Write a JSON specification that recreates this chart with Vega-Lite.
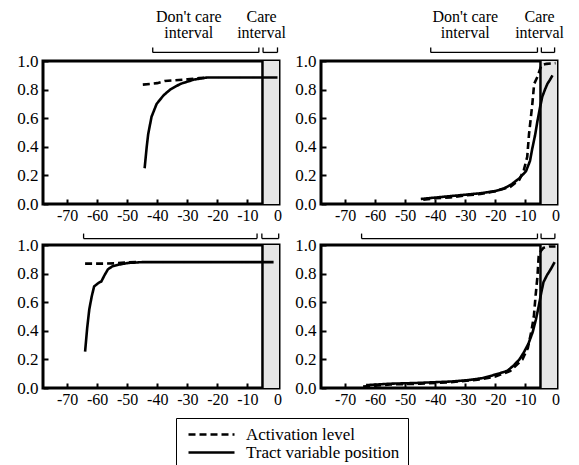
{
  "$schema": "https://vega.github.io/schema/vega-lite/v6.json",
  "padding": {"left": 15, "top": 7, "right": 5, "bottom": 0},
  "background": "white",
  "config": {
    "font": "Liberation Serif",
    "view": {"stroke": "black", "strokeWidth": 3},
    "axis": {"domain": false, "grid": false, "title": null, "labelColor": "black", "tickColor": "black", "labelFont": "Liberation Serif", "labelOverlap": false, "labelFlush": false, "labelBound": false, "zindex": 1, "ticks": true, "tickOpacity": 1, "labelOpacity": 1},
    "axisX": {"offset": -5, "tickSize": 5, "tickWidth": 2, "labelPadding": 3, "labelFontSize": 16, "labelOverlap": false, "values": [-70, -60, -50, -40, -30, -20, -10, 0], "labelExpr": "'' + datum.value"},
    "axisY": {"offset": -5, "tickSize": 5, "tickWidth": 2, "labelPadding": 5, "labelFontSize": 17, "labelOverlap": false, "values": [0, 0.2, 0.4, 0.6, 0.8, 1.0], "labelExpr": "format(datum.value, '.1f')"}
  },
  "datasets": {
    "panels": [
      {"kind": "curve", "panel": "A", "series": "Tract variable position", "x": -44.2, "y": 0.25},
      {"kind": "curve", "panel": "A", "series": "Tract variable position", "x": -43.5, "y": 0.4},
      {"kind": "curve", "panel": "A", "series": "Tract variable position", "x": -43, "y": 0.49},
      {"kind": "curve", "panel": "A", "series": "Tract variable position", "x": -41.9, "y": 0.61},
      {"kind": "curve", "panel": "A", "series": "Tract variable position", "x": -40.2, "y": 0.7},
      {"kind": "curve", "panel": "A", "series": "Tract variable position", "x": -37.9, "y": 0.76},
      {"kind": "curve", "panel": "A", "series": "Tract variable position", "x": -35.7, "y": 0.8},
      {"kind": "curve", "panel": "A", "series": "Tract variable position", "x": -32.3, "y": 0.84},
      {"kind": "curve", "panel": "A", "series": "Tract variable position", "x": -27.8, "y": 0.87},
      {"kind": "curve", "panel": "A", "series": "Tract variable position", "x": -23.3, "y": 0.885},
      {"kind": "curve", "panel": "A", "series": "Tract variable position", "x": -15, "y": 0.885},
      {"kind": "curve", "panel": "A", "series": "Tract variable position", "x": -5, "y": 0.885},
      {"kind": "curve", "panel": "A", "series": "Tract variable position", "x": 0, "y": 0.885},
      {"kind": "curve", "panel": "A", "series": "Activation level", "x": -44.8, "y": 0.835},
      {"kind": "curve", "panel": "A", "series": "Activation level", "x": -42, "y": 0.84},
      {"kind": "curve", "panel": "A", "series": "Activation level", "x": -40, "y": 0.845},
      {"kind": "curve", "panel": "A", "series": "Activation level", "x": -37.5, "y": 0.86},
      {"kind": "curve", "panel": "A", "series": "Activation level", "x": -34, "y": 0.865},
      {"kind": "curve", "panel": "A", "series": "Activation level", "x": -30, "y": 0.872},
      {"kind": "curve", "panel": "A", "series": "Activation level", "x": -26, "y": 0.88},
      {"kind": "curve", "panel": "A", "series": "Activation level", "x": -23, "y": 0.885},

      {"kind": "curve", "panel": "B", "series": "Tract variable position", "x": -44.8, "y": 0.035},
      {"kind": "curve", "panel": "B", "series": "Tract variable position", "x": -40, "y": 0.045},
      {"kind": "curve", "panel": "B", "series": "Tract variable position", "x": -35, "y": 0.055},
      {"kind": "curve", "panel": "B", "series": "Tract variable position", "x": -30, "y": 0.065},
      {"kind": "curve", "panel": "B", "series": "Tract variable position", "x": -25, "y": 0.075},
      {"kind": "curve", "panel": "B", "series": "Tract variable position", "x": -20, "y": 0.09},
      {"kind": "curve", "panel": "B", "series": "Tract variable position", "x": -17, "y": 0.11},
      {"kind": "curve", "panel": "B", "series": "Tract variable position", "x": -14.5, "y": 0.14},
      {"kind": "curve", "panel": "B", "series": "Tract variable position", "x": -12, "y": 0.18},
      {"kind": "curve", "panel": "B", "series": "Tract variable position", "x": -9.8, "y": 0.23},
      {"kind": "curve", "panel": "B", "series": "Tract variable position", "x": -8.5, "y": 0.3},
      {"kind": "curve", "panel": "B", "series": "Tract variable position", "x": -7.7, "y": 0.39},
      {"kind": "curve", "panel": "B", "series": "Tract variable position", "x": -6.8, "y": 0.48},
      {"kind": "curve", "panel": "B", "series": "Tract variable position", "x": -6, "y": 0.58},
      {"kind": "curve", "panel": "B", "series": "Tract variable position", "x": -5.2, "y": 0.67},
      {"kind": "curve", "panel": "B", "series": "Tract variable position", "x": -4.4, "y": 0.75},
      {"kind": "curve", "panel": "B", "series": "Tract variable position", "x": -3.5, "y": 0.8},
      {"kind": "curve", "panel": "B", "series": "Tract variable position", "x": -2.7, "y": 0.84},
      {"kind": "curve", "panel": "B", "series": "Tract variable position", "x": -1.8, "y": 0.87},
      {"kind": "curve", "panel": "B", "series": "Tract variable position", "x": -1, "y": 0.9},
      {"kind": "curve", "panel": "B", "series": "Activation level", "x": -44, "y": 0.03},
      {"kind": "curve", "panel": "B", "series": "Activation level", "x": -40, "y": 0.04},
      {"kind": "curve", "panel": "B", "series": "Activation level", "x": -35, "y": 0.045},
      {"kind": "curve", "panel": "B", "series": "Activation level", "x": -30, "y": 0.06},
      {"kind": "curve", "panel": "B", "series": "Activation level", "x": -25, "y": 0.07},
      {"kind": "curve", "panel": "B", "series": "Activation level", "x": -20, "y": 0.09},
      {"kind": "curve", "panel": "B", "series": "Activation level", "x": -15, "y": 0.12},
      {"kind": "curve", "panel": "B", "series": "Activation level", "x": -12, "y": 0.17},
      {"kind": "curve", "panel": "B", "series": "Activation level", "x": -10.5, "y": 0.24},
      {"kind": "curve", "panel": "B", "series": "Activation level", "x": -9.4, "y": 0.33},
      {"kind": "curve", "panel": "B", "series": "Activation level", "x": -8.8, "y": 0.49},
      {"kind": "curve", "panel": "B", "series": "Activation level", "x": -7.7, "y": 0.7},
      {"kind": "curve", "panel": "B", "series": "Activation level", "x": -7.1, "y": 0.84},
      {"kind": "curve", "panel": "B", "series": "Activation level", "x": -6, "y": 0.89},
      {"kind": "curve", "panel": "B", "series": "Activation level", "x": -4.7, "y": 0.97},
      {"kind": "curve", "panel": "B", "series": "Activation level", "x": -3, "y": 0.98},
      {"kind": "curve", "panel": "B", "series": "Activation level", "x": 0, "y": 0.985},

      {"kind": "curve", "panel": "C", "series": "Tract variable position", "x": -64, "y": 0.255},
      {"kind": "curve", "panel": "C", "series": "Tract variable position", "x": -63.3, "y": 0.42},
      {"kind": "curve", "panel": "C", "series": "Tract variable position", "x": -62.6, "y": 0.55},
      {"kind": "curve", "panel": "C", "series": "Tract variable position", "x": -61.8, "y": 0.64},
      {"kind": "curve", "panel": "C", "series": "Tract variable position", "x": -61, "y": 0.71},
      {"kind": "curve", "panel": "C", "series": "Tract variable position", "x": -59.5, "y": 0.735},
      {"kind": "curve", "panel": "C", "series": "Tract variable position", "x": -58.6, "y": 0.745},
      {"kind": "curve", "panel": "C", "series": "Tract variable position", "x": -57.5, "y": 0.79},
      {"kind": "curve", "panel": "C", "series": "Tract variable position", "x": -56.4, "y": 0.83},
      {"kind": "curve", "panel": "C", "series": "Tract variable position", "x": -55, "y": 0.85},
      {"kind": "curve", "panel": "C", "series": "Tract variable position", "x": -53, "y": 0.862},
      {"kind": "curve", "panel": "C", "series": "Tract variable position", "x": -49.5, "y": 0.875},
      {"kind": "curve", "panel": "C", "series": "Tract variable position", "x": -45, "y": 0.88},
      {"kind": "curve", "panel": "C", "series": "Tract variable position", "x": -20, "y": 0.88},
      {"kind": "curve", "panel": "C", "series": "Tract variable position", "x": -1.3, "y": 0.88},
      {"kind": "curve", "panel": "C", "series": "Activation level", "x": -64, "y": 0.87},
      {"kind": "curve", "panel": "C", "series": "Activation level", "x": -58, "y": 0.87},
      {"kind": "curve", "panel": "C", "series": "Activation level", "x": -54, "y": 0.872},
      {"kind": "curve", "panel": "C", "series": "Activation level", "x": -50, "y": 0.878},
      {"kind": "curve", "panel": "C", "series": "Activation level", "x": -47, "y": 0.88},

      {"kind": "curve", "panel": "D", "series": "Tract variable position", "x": -63, "y": 0.02},
      {"kind": "curve", "panel": "D", "series": "Tract variable position", "x": -55, "y": 0.03},
      {"kind": "curve", "panel": "D", "series": "Tract variable position", "x": -46.6, "y": 0.035},
      {"kind": "curve", "panel": "D", "series": "Tract variable position", "x": -35, "y": 0.045},
      {"kind": "curve", "panel": "D", "series": "Tract variable position", "x": -29, "y": 0.055},
      {"kind": "curve", "panel": "D", "series": "Tract variable position", "x": -24, "y": 0.07},
      {"kind": "curve", "panel": "D", "series": "Tract variable position", "x": -19, "y": 0.1},
      {"kind": "curve", "panel": "D", "series": "Tract variable position", "x": -16, "y": 0.12},
      {"kind": "curve", "panel": "D", "series": "Tract variable position", "x": -13.8, "y": 0.16},
      {"kind": "curve", "panel": "D", "series": "Tract variable position", "x": -12, "y": 0.2},
      {"kind": "curve", "panel": "D", "series": "Tract variable position", "x": -10.5, "y": 0.25},
      {"kind": "curve", "panel": "D", "series": "Tract variable position", "x": -9, "y": 0.31},
      {"kind": "curve", "panel": "D", "series": "Tract variable position", "x": -7.6, "y": 0.39},
      {"kind": "curve", "panel": "D", "series": "Tract variable position", "x": -6.5, "y": 0.48},
      {"kind": "curve", "panel": "D", "series": "Tract variable position", "x": -5.6, "y": 0.57},
      {"kind": "curve", "panel": "D", "series": "Tract variable position", "x": -4.8, "y": 0.66},
      {"kind": "curve", "panel": "D", "series": "Tract variable position", "x": -4, "y": 0.74},
      {"kind": "curve", "panel": "D", "series": "Tract variable position", "x": -2.8, "y": 0.79},
      {"kind": "curve", "panel": "D", "series": "Tract variable position", "x": -1.6, "y": 0.83},
      {"kind": "curve", "panel": "D", "series": "Tract variable position", "x": -0.3, "y": 0.88},
      {"kind": "curve", "panel": "D", "series": "Activation level", "x": -64, "y": 0.01},
      {"kind": "curve", "panel": "D", "series": "Activation level", "x": -55, "y": 0.025},
      {"kind": "curve", "panel": "D", "series": "Activation level", "x": -45, "y": 0.03},
      {"kind": "curve", "panel": "D", "series": "Activation level", "x": -35, "y": 0.04},
      {"kind": "curve", "panel": "D", "series": "Activation level", "x": -25, "y": 0.06},
      {"kind": "curve", "panel": "D", "series": "Activation level", "x": -20, "y": 0.08},
      {"kind": "curve", "panel": "D", "series": "Activation level", "x": -15, "y": 0.12},
      {"kind": "curve", "panel": "D", "series": "Activation level", "x": -11, "y": 0.2},
      {"kind": "curve", "panel": "D", "series": "Activation level", "x": -9.2, "y": 0.28},
      {"kind": "curve", "panel": "D", "series": "Activation level", "x": -8, "y": 0.4},
      {"kind": "curve", "panel": "D", "series": "Activation level", "x": -7.2, "y": 0.5},
      {"kind": "curve", "panel": "D", "series": "Activation level", "x": -6.6, "y": 0.65},
      {"kind": "curve", "panel": "D", "series": "Activation level", "x": -6, "y": 0.78},
      {"kind": "curve", "panel": "D", "series": "Activation level", "x": -5.6, "y": 0.92},
      {"kind": "curve", "panel": "D", "series": "Activation level", "x": -4.8, "y": 0.96},
      {"kind": "curve", "panel": "D", "series": "Activation level", "x": -4, "y": 0.98},
      {"kind": "curve", "panel": "D", "series": "Activation level", "x": -2, "y": 0.99},
      {"kind": "curve", "panel": "D", "series": "Activation level", "x": 0, "y": 0.99},

      {"kind": "bracket", "panel": "A", "x": -41.5, "x2": -6.2},
      {"kind": "bracket", "panel": "A", "x": -4.8, "x2": 0},
      {"kind": "bracket", "panel": "B", "x": -41.5, "x2": -6},
      {"kind": "bracket", "panel": "B", "x": -4.7, "x2": -0.3},
      {"kind": "bracket", "panel": "C", "x": -64.5, "x2": -6.8},
      {"kind": "bracket", "panel": "C", "x": -5.2, "x2": 0.4},
      {"kind": "bracket", "panel": "D", "x": -64.5, "x2": -6},
      {"kind": "bracket", "panel": "D", "x": -4.8, "x2": -0.2},

      {"kind": "care", "panel": "A", "x": -5, "x2": 0.5},
      {"kind": "care", "panel": "B", "x": -5, "x2": 0.5},
      {"kind": "care", "panel": "C", "x": -5, "x2": 0.5},
      {"kind": "care", "panel": "D", "x": -5, "x2": 0.5},

      {"kind": "label", "panel": "A", "x": -29.5, "text": "Don't care\ninterval"},
      {"kind": "label", "panel": "A", "x": -5.3, "text": "Care\ninterval"},
      {"kind": "label", "panel": "B", "x": -30, "text": "Don't care\ninterval"},
      {"kind": "label", "panel": "B", "x": -5.3, "text": "Care\ninterval"}
    ]
  },
  "columns": 2,
  "spacing": {"row": 41, "column": 42},
  "bounds": "flush",
  "concat": [
    {
      "data": {"name": "panels"},
      "transform": [{"filter": "datum.panel === 'A'"}],
      "width": 236, "height": 143,
      "layer": [
        {"transform": [{"filter": "datum.kind === 'care'"}], "mark": {"type": "rect", "fill": "#e6e6e6"},
          "encoding": {
            "x": {"field": "x", "type": "quantitative", "scale": {"domain": [-78, 0.5], "nice": false, "zero": false}},
            "x2": {"field": "x2"},
            "y": {"datum": 0, "type": "quantitative", "scale": {"domain": [0, 1], "nice": false, "zero": false}},
            "y2": {"datum": 1}}},
        {"transform": [{"filter": "datum.kind === 'care'"}], "mark": {"type": "rule", "color": "black", "strokeWidth": 2.5},
          "encoding": {"x": {"field": "x", "type": "quantitative"}, "y": {"datum": 0, "type": "quantitative"}, "y2": {"datum": 1}}},
        {"transform": [{"filter": "datum.kind === 'curve'"}], "mark": {"type": "line", "color": "black", "strokeWidth": 2.6},
          "encoding": {"x": {"field": "x", "type": "quantitative"}, "y": {"field": "y", "type": "quantitative"},
            "strokeDash": {"field": "series", "type": "nominal", "scale": {"domain": ["Activation level", "Tract variable position"], "range": [[7, 4], [1, 0]]},
              "legend": {"orient": "none", "legendX": 133, "legendY": 357, "title": null, "strokeColor": "black", "padding": 8, "symbolType": "M-1,0H10.5", "symbolSize": 64, "symbolStrokeWidth": 2.6, "symbolStrokeColor": "black", "labelFontSize": 17, "labelFont": "Liberation Serif", "labelColor": "black", "labelOffset": 45, "rowPadding": 0, "labelLimit": 300}}}},
        {"transform": [{"filter": "datum.kind === 'bracket'"}], "mark": {"type": "rule", "color": "black", "strokeWidth": 1.3},
          "encoding": {"x": {"field": "x", "type": "quantitative"}, "x2": {"field": "x2"}, "y": {"datum": 1.06, "type": "quantitative"}}},
        {"transform": [{"filter": "datum.kind === 'bracket'"}], "mark": {"type": "rule", "color": "black", "strokeWidth": 1.3},
          "encoding": {"x": {"field": "x", "type": "quantitative"}, "y": {"datum": 1.06, "type": "quantitative"}, "y2": {"datum": 1.095}}},
        {"transform": [{"filter": "datum.kind === 'bracket'"}], "mark": {"type": "rule", "color": "black", "strokeWidth": 1.3},
          "encoding": {"x": {"field": "x2", "type": "quantitative"}, "y": {"datum": 1.06, "type": "quantitative"}, "y2": {"datum": 1.095}}},
        {"transform": [{"filter": "datum.kind === 'label'"}], "mark": {"type": "text", "color": "black", "fontSize": 16, "font": "Liberation Serif", "lineBreak": "\n", "lineHeight": 16, "baseline": "alphabetic", "align": "center"},
          "encoding": {"x": {"field": "x", "type": "quantitative"}, "y": {"datum": 1.27, "type": "quantitative"}, "text": {"field": "text"}}}
      ]
    },
    {
      "data": {"name": "panels"},
      "transform": [{"filter": "datum.panel === 'B'"}],
      "width": 236, "height": 143,
      "layer": [
        {"transform": [{"filter": "datum.kind === 'care'"}], "mark": {"type": "rect", "fill": "#e6e6e6"},
          "encoding": {
            "x": {"field": "x", "type": "quantitative", "scale": {"domain": [-78, 0.5], "nice": false, "zero": false}},
            "x2": {"field": "x2"},
            "y": {"datum": 0, "type": "quantitative", "scale": {"domain": [0, 1], "nice": false, "zero": false}},
            "y2": {"datum": 1}}},
        {"transform": [{"filter": "datum.kind === 'care'"}], "mark": {"type": "rule", "color": "black", "strokeWidth": 2.5},
          "encoding": {"x": {"field": "x", "type": "quantitative"}, "y": {"datum": 0, "type": "quantitative"}, "y2": {"datum": 1}}},
        {"transform": [{"filter": "datum.kind === 'curve'"}], "mark": {"type": "line", "color": "black", "strokeWidth": 2.6},
          "encoding": {"x": {"field": "x", "type": "quantitative"}, "y": {"field": "y", "type": "quantitative"},
            "strokeDash": {"field": "series", "type": "nominal"}}},
        {"transform": [{"filter": "datum.kind === 'bracket'"}], "mark": {"type": "rule", "color": "black", "strokeWidth": 1.3},
          "encoding": {"x": {"field": "x", "type": "quantitative"}, "x2": {"field": "x2"}, "y": {"datum": 1.06, "type": "quantitative"}}},
        {"transform": [{"filter": "datum.kind === 'bracket'"}], "mark": {"type": "rule", "color": "black", "strokeWidth": 1.3},
          "encoding": {"x": {"field": "x", "type": "quantitative"}, "y": {"datum": 1.06, "type": "quantitative"}, "y2": {"datum": 1.095}}},
        {"transform": [{"filter": "datum.kind === 'bracket'"}], "mark": {"type": "rule", "color": "black", "strokeWidth": 1.3},
          "encoding": {"x": {"field": "x2", "type": "quantitative"}, "y": {"datum": 1.06, "type": "quantitative"}, "y2": {"datum": 1.095}}},
        {"transform": [{"filter": "datum.kind === 'label'"}], "mark": {"type": "text", "color": "black", "fontSize": 16, "font": "Liberation Serif", "lineBreak": "\n", "lineHeight": 16, "baseline": "alphabetic", "align": "center"},
          "encoding": {"x": {"field": "x", "type": "quantitative"}, "y": {"datum": 1.27, "type": "quantitative"}, "text": {"field": "text"}}}
      ]
    },
    {
      "data": {"name": "panels"},
      "transform": [{"filter": "datum.panel === 'C'"}],
      "width": 236, "height": 143,
      "layer": [
        {"transform": [{"filter": "datum.kind === 'care'"}], "mark": {"type": "rect", "fill": "#e6e6e6"},
          "encoding": {
            "x": {"field": "x", "type": "quantitative", "scale": {"domain": [-78, 0.5], "nice": false, "zero": false}},
            "x2": {"field": "x2"},
            "y": {"datum": 0, "type": "quantitative", "scale": {"domain": [0, 1], "nice": false, "zero": false}},
            "y2": {"datum": 1}}},
        {"transform": [{"filter": "datum.kind === 'care'"}], "mark": {"type": "rule", "color": "black", "strokeWidth": 2.5},
          "encoding": {"x": {"field": "x", "type": "quantitative"}, "y": {"datum": 0, "type": "quantitative"}, "y2": {"datum": 1}}},
        {"transform": [{"filter": "datum.kind === 'curve'"}], "mark": {"type": "line", "color": "black", "strokeWidth": 2.6},
          "encoding": {"x": {"field": "x", "type": "quantitative"}, "y": {"field": "y", "type": "quantitative"},
            "strokeDash": {"field": "series", "type": "nominal"}}},
        {"transform": [{"filter": "datum.kind === 'bracket'"}], "mark": {"type": "rule", "color": "black", "strokeWidth": 1.3},
          "encoding": {"x": {"field": "x", "type": "quantitative"}, "x2": {"field": "x2"}, "y": {"datum": 1.045, "type": "quantitative"}}},
        {"transform": [{"filter": "datum.kind === 'bracket'"}], "mark": {"type": "rule", "color": "black", "strokeWidth": 1.3},
          "encoding": {"x": {"field": "x", "type": "quantitative"}, "y": {"datum": 1.045, "type": "quantitative"}, "y2": {"datum": 1.08}}},
        {"transform": [{"filter": "datum.kind === 'bracket'"}], "mark": {"type": "rule", "color": "black", "strokeWidth": 1.3},
          "encoding": {"x": {"field": "x2", "type": "quantitative"}, "y": {"datum": 1.045, "type": "quantitative"}, "y2": {"datum": 1.08}}}
      ]
    },
    {
      "data": {"name": "panels"},
      "transform": [{"filter": "datum.panel === 'D'"}],
      "width": 236, "height": 143,
      "layer": [
        {"transform": [{"filter": "datum.kind === 'care'"}], "mark": {"type": "rect", "fill": "#e6e6e6"},
          "encoding": {
            "x": {"field": "x", "type": "quantitative", "scale": {"domain": [-78, 0.5], "nice": false, "zero": false}},
            "x2": {"field": "x2"},
            "y": {"datum": 0, "type": "quantitative", "scale": {"domain": [0, 1], "nice": false, "zero": false}},
            "y2": {"datum": 1}}},
        {"transform": [{"filter": "datum.kind === 'care'"}], "mark": {"type": "rule", "color": "black", "strokeWidth": 2.5},
          "encoding": {"x": {"field": "x", "type": "quantitative"}, "y": {"datum": 0, "type": "quantitative"}, "y2": {"datum": 1}}},
        {"transform": [{"filter": "datum.kind === 'curve'"}], "mark": {"type": "line", "color": "black", "strokeWidth": 2.6},
          "encoding": {"x": {"field": "x", "type": "quantitative"}, "y": {"field": "y", "type": "quantitative"},
            "strokeDash": {"field": "series", "type": "nominal"}}},
        {"transform": [{"filter": "datum.kind === 'bracket'"}], "mark": {"type": "rule", "color": "black", "strokeWidth": 1.3},
          "encoding": {"x": {"field": "x", "type": "quantitative"}, "x2": {"field": "x2"}, "y": {"datum": 1.045, "type": "quantitative"}}},
        {"transform": [{"filter": "datum.kind === 'bracket'"}], "mark": {"type": "rule", "color": "black", "strokeWidth": 1.3},
          "encoding": {"x": {"field": "x", "type": "quantitative"}, "y": {"datum": 1.045, "type": "quantitative"}, "y2": {"datum": 1.08}}},
        {"transform": [{"filter": "datum.kind === 'bracket'"}], "mark": {"type": "rule", "color": "black", "strokeWidth": 1.3},
          "encoding": {"x": {"field": "x2", "type": "quantitative"}, "y": {"datum": 1.045, "type": "quantitative"}, "y2": {"datum": 1.08}}}
      ]
    }
  ]
}
